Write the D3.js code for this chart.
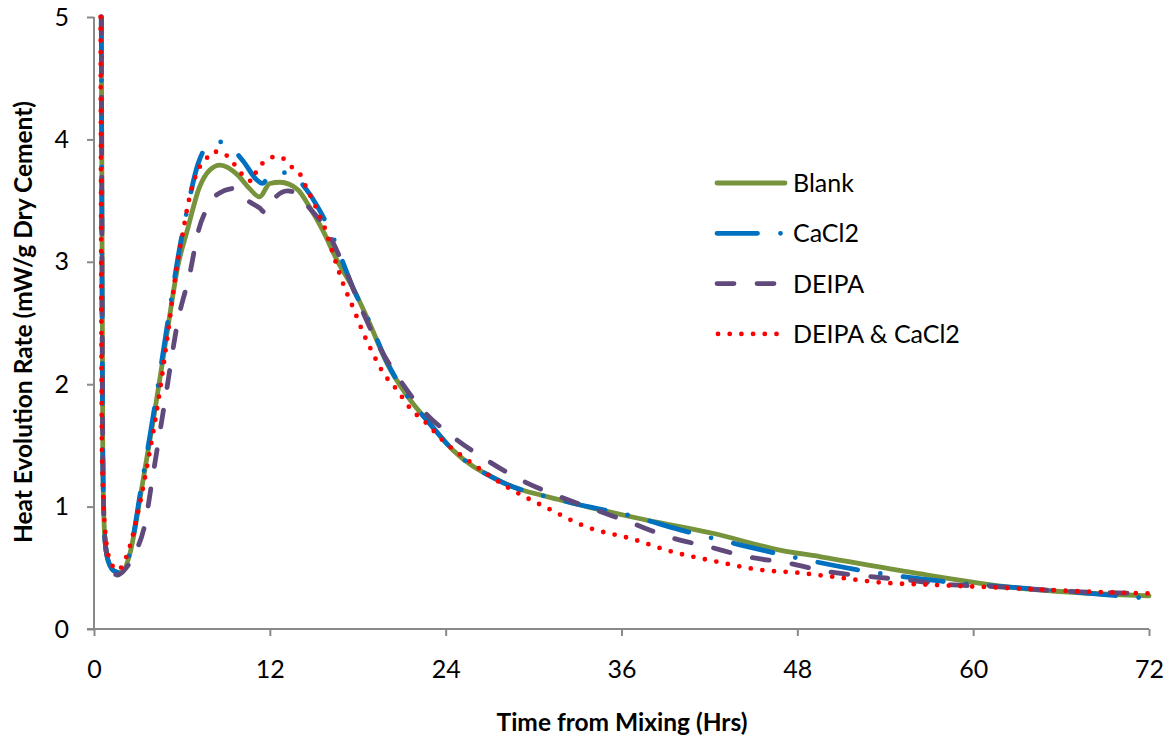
<!DOCTYPE html>
<html>
<head>
<meta charset="utf-8">
<script src="https://cdnjs.cloudflare.com/ajax/libs/d3/7.8.5/d3.min.js"></script>
<style>
  body { margin: 0; background: #fff; }
  text { font-family: Lato, "Open Sans", sans-serif; fill: #000; }
</style>
</head>
<body>
<div id="my_dataviz"></div>
<script>
// hours from mixing / heat evolution rate
var blankHrs  = [0.5, 0.6, 0.73, 0.96, 1.43, 1.84, 2.46, 3.2, 4.16, 5.05, 5.73, 6.35, 7.2, 7.9, 8.6, 9.8, 10.6, 11.3, 12.0, 12.7, 13.9, 14.7, 15.6, 16.6, 17.7, 18.8, 20.0, 21.4, 22.9, 24.5, 27.5, 32.3, 37.7, 42.3, 46.8, 49.6, 55.9, 62.7, 72];
var blankRate = [5.0, 1.4, 0.76, 0.56, 0.47, 0.46, 0.62, 1.11, 1.79, 2.47, 2.97, 3.25, 3.61, 3.75, 3.79, 3.71, 3.60, 3.53, 3.64, 3.65, 3.59, 3.45, 3.26, 3.01, 2.78, 2.50, 2.17, 1.90, 1.68, 1.46, 1.22, 1.04, 0.89, 0.78, 0.645, 0.59, 0.46, 0.34, 0.27];

var cacl2Hrs  = [0.5, 0.6, 0.73, 0.96, 1.43, 1.84, 2.46, 3.2, 4.16, 5.05, 5.9, 6.35, 7.1, 7.7, 8.6, 9.15, 10.2, 11.1, 11.5, 12.0, 12.7, 13.4, 14.5, 15.4, 16.6, 17.1, 17.7, 18.8, 20.0, 21.4, 22.9, 24.5, 27.5, 32.3, 36.8, 40.0, 44.0, 48.0, 52.8, 58.6, 65.0, 72];
var cacl2Rate = [5.0, 1.4, 0.76, 0.56, 0.47, 0.46, 0.63, 1.14, 1.83, 2.52, 3.15, 3.42, 3.80, 3.94, 3.98, 3.95, 3.82, 3.67, 3.64, 3.71, 3.73, 3.72, 3.59, 3.42, 3.12, 2.96, 2.78, 2.51, 2.18, 1.90, 1.68, 1.46, 1.22, 1.04, 0.92, 0.81, 0.69, 0.58, 0.47, 0.38, 0.32, 0.25];

var deipaHrs  = [0.5, 0.6, 0.73, 0.96, 1.3, 1.6, 2.2, 2.8, 3.5, 4.0, 4.85, 5.73, 6.55, 7.1, 8.1, 8.4, 9.6, 10.5, 11.3, 11.7, 12.2, 13.2, 13.9, 14.7, 15.6, 17.0, 18.2, 19.5, 20.9, 22.5, 24.5, 26.8, 29.1, 31.8, 34.3, 36.6, 39.3, 42.0, 44.6, 47.3, 50.0, 52.8, 55.5, 58.6, 61.0, 66.0, 72];
var deipaRate = [5.0, 1.4, 0.76, 0.56, 0.47, 0.44, 0.50, 0.62, 0.87, 1.24, 1.87, 2.52, 2.91, 3.24, 3.50, 3.55, 3.60, 3.50, 3.44, 3.40, 3.50, 3.58, 3.55, 3.44, 3.31, 2.98, 2.63, 2.30, 2.03, 1.78, 1.57, 1.38, 1.22, 1.08, 0.97, 0.87, 0.75, 0.67, 0.59, 0.54, 0.47, 0.43, 0.40, 0.36, 0.35, 0.31, 0.29];

var bothHrs  = [0.45, 0.55, 0.8, 1.1, 1.6, 2.3, 3.0, 3.7, 4.4, 5.05, 5.6, 6.1, 6.4, 6.8, 7.1, 7.6, 8.1, 8.8, 9.4, 9.9, 10.4, 10.85, 11.1, 11.7, 12.4, 13.1, 13.6, 14.2, 14.5, 14.9, 15.2, 15.8, 16.3, 17.1, 17.7, 18.3, 19.0, 19.7, 20.7, 21.6, 22.7, 23.8, 25.5, 28.2, 30.9, 33.7, 36.6, 39.5, 42.5, 45.7, 48.0, 50.2, 53.7, 57.3, 61.4, 66.8, 72];
var bothRate = [5.0, 1.4, 0.75, 0.56, 0.48, 0.62, 0.95, 1.38, 1.87, 2.42, 2.92, 3.26, 3.46, 3.65, 3.75, 3.83, 3.90, 3.89, 3.82, 3.75, 3.67, 3.66, 3.75, 3.82, 3.86, 3.83, 3.76, 3.69, 3.60, 3.51, 3.43, 3.26, 3.07, 2.79, 2.62, 2.44, 2.26, 2.10, 1.95, 1.80, 1.68, 1.54, 1.38, 1.16, 0.99, 0.83, 0.74, 0.63, 0.55, 0.48, 0.46, 0.43, 0.38, 0.36, 0.34, 0.31, 0.29];

var seriesNames = ["Blank", "CaCl2", "DEIPA", "DEIPA & CaCl2"];
var xTicks = [0, 12, 24, 36, 48, 60, 72];
var yTicks = [0, 1, 2, 3, 4, 5];

var margin = {top: 17, right: 22, bottom: 113, left: 94},
    width = 1171 - margin.left - margin.right,
    height = 742 - margin.top - margin.bottom;

var root = d3.select("#my_dataviz")
  .append("svg")
  .attr("width", 1171)
  .attr("height", 742);

var svg = root.append("g")
  .attr("transform", "translate(" + margin.left + "," + margin.top + ")");

var x = d3.scaleLinear().domain([0, 72]).range([0, width]);
var y = d3.scaleLinear().domain([0, 5]).range([height, 0]);

// axes
var xAxis = svg.append("g")
  .attr("transform", "translate(0," + height + ")")
  .call(d3.axisBottom(x).tickValues(xTicks).tickSize(7).tickPadding(24).tickFormat(d3.format("d")));
var yAxis = svg.append("g")
  .call(d3.axisLeft(y).tickValues(yTicks).tickSize(7).tickPadding(18).tickFormat(d3.format("d")));

[xAxis, yAxis].forEach(function(a) {
  a.select(".domain").attr("stroke", "#898989").attr("stroke-width", 2);
  a.selectAll(".tick line").attr("stroke", "#898989").attr("stroke-width", 2);
  a.selectAll("text").style("font-size", "25px").attr("fill", "#000");
});
// x axis domain runs a little left of the y axis like the original
xAxis.select(".domain").attr("d", "M-7,0H" + width);
yAxis.select(".domain").attr("d", "M0," + height + "V0");

var styles = [
  {hrs: blankHrs, rate: blankRate, color: "#77933C", width: 4.8, dash: null},
  {hrs: cacl2Hrs, rate: cacl2Rate, color: "#0070C0", width: 4.8, dash: "40.5,23,0,23"},
  {hrs: deipaHrs, rate: deipaRate, color: "#604A7B", width: 4.8, dash: "17,23"},
  {hrs: bothHrs,  rate: bothRate,  color: "#FF0000", width: 4.8, dash: "0,11.7"}
];

var line = d3.line()
  .x(function(d) { return x(d[0]); })
  .y(function(d) { return y(d[1]); })
  .curve(d3.curveMonotoneX);

styles.forEach(function(s) {
  var pts = s.hrs.map(function(h, i) { return [h, s.rate[i]]; });
  svg.append("path")
    .datum(pts)
    .attr("fill", "none")
    .attr("stroke", s.color)
    .attr("stroke-width", s.width)
    .attr("stroke-linecap", "round")
    .attr("stroke-linejoin", "round")
    .attr("stroke-dasharray", s.dash)
    .attr("d", line);
});

// legend
var legendX1 = [717, 717, 717, 718];
var legendX2 = [785, 782, 775, 778];
var legend = root.append("g");
styles.forEach(function(s, i) {
  var ly = 183 + i * 50.3;
  legend.append("line")
    .attr("x1", legendX1[i])
    .attr("x2", legendX2[i])
    .attr("y1", ly).attr("y2", ly)
    .attr("stroke", s.color)
    .attr("stroke-width", s.width)
    .attr("stroke-linecap", "round")
    .attr("stroke-dasharray", s.dash);
  legend.append("text")
    .attr("x", 793)
    .attr("y", ly)
    .attr("dy", "0.36em")
    .style("font-size", "25px")
    .text(seriesNames[i]);
});

// axis titles
root.append("text")
  .attr("x", 622)
  .attr("y", 731)
  .attr("text-anchor", "middle")
  .style("font-size", "24.5px")
  .style("font-weight", "bold")
  .text("Time from Mixing (Hrs)");

root.append("text")
  .attr("transform", "translate(32,322) rotate(-90)")
  .attr("text-anchor", "middle")
  .style("font-size", "24.5px")
  .style("font-weight", "bold")
  .text("Heat Evolution Rate (mW/g Dry Cement)");
</script>
</body>
</html>
